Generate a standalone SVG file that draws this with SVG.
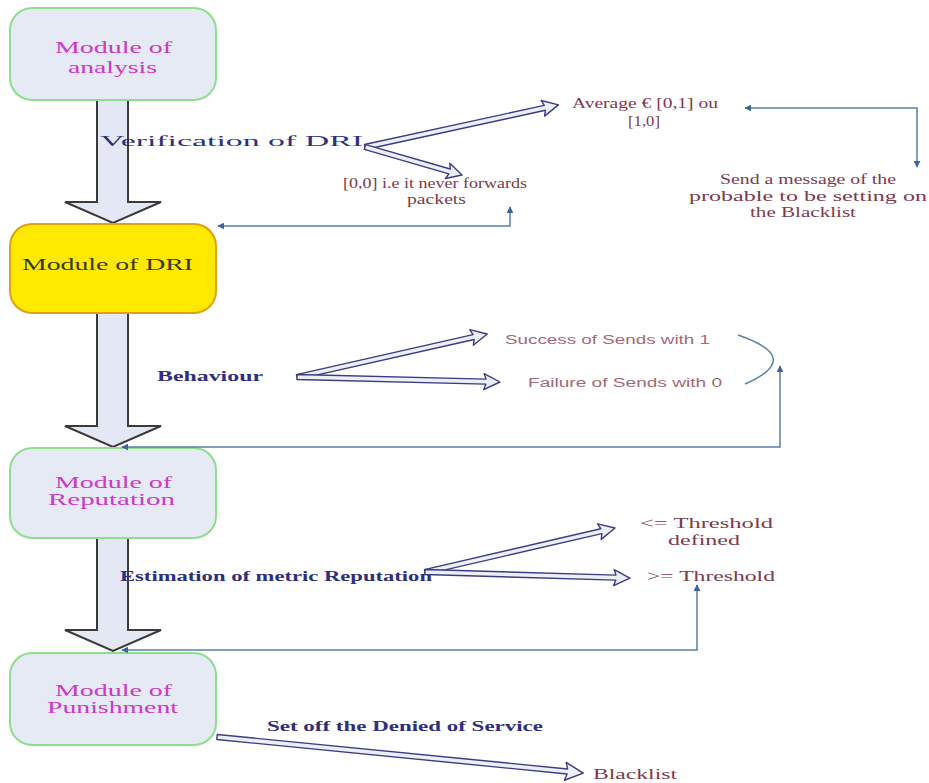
<svg xmlns="http://www.w3.org/2000/svg" width="929" height="783" viewBox="0 0 929 783">
<style>
  .box { fill: #e6eaf4; stroke: #8ede8e; stroke-width: 2; }
  .dri { fill: #ffe900; stroke: #e0a010; stroke-width: 2; }
  .mod { font-family: "Liberation Serif", "DejaVu Serif", serif; font-size: 16px; fill: #cc38c8; }
  .modd { font-family: "Liberation Serif", "DejaVu Serif", serif; font-size: 16px; fill: #3a3a24; }
  .lbl { font-family: "Liberation Serif", "DejaVu Serif", serif; font-size: 15px; fill: #2f2f7c; font-weight: bold; }
  .lbln { font-family: "Liberation Serif", "DejaVu Serif", serif; font-size: 15px; fill: #2f2f7c; }
  .res { font-family: "Liberation Serif", "DejaVu Serif", serif; font-size: 14px; fill: #7c3a4c; }
  .sans { font-family: "Liberation Sans", Arial, sans-serif; font-size: 12px; fill: #a56878; }
  .block { fill: #e4e8f4; stroke: #3a3a3a; stroke-width: 2; stroke-linejoin: miter; }
  .dbl { fill: #eceef8; stroke: #3c3c82; stroke-width: 1.4; stroke-linejoin: round; }
  .con { fill: none; stroke: #5a80a8; stroke-width: 1.5; }
</style>
<defs>
  <marker id="ah" viewBox="0 0 10 10" refX="9" refY="5" markerWidth="7" markerHeight="7" orient="auto-start-reverse" markerUnits="userSpaceOnUse">
    <path d="M0,0 L10,5 L0,10 z" fill="#3e62a0"/>
  </marker>
</defs>
<rect width="929" height="783" fill="#ffffff"/>

<!-- block arrows between modules -->
<g id="block-arrows">
  <polygon class="block" points="97,100 128,100 128,202 161,202 113,223 65,202 97,202"/>
  <polygon class="block" points="97,313 128,313 128,426 161,426 113,447 65,426 97,426"/>
  <polygon class="block" points="97,538 128,538 128,630 161,630 113,651 65,630 97,630"/>
</g>

<g id="node-analysis">
  <rect class="box" x="10" y="8" width="206" height="92" rx="22"/>
  <text class="mod" x="55" y="53" textLength="117" lengthAdjust="spacingAndGlyphs">Module of</text>
  <text class="mod" x="68" y="73" textLength="89" lengthAdjust="spacingAndGlyphs">analysis</text>
</g>
<g id="node-dri">
  <rect class="dri" x="10" y="224" width="206" height="89" rx="22"/>
  <text class="modd" x="22" y="270" textLength="171" lengthAdjust="spacingAndGlyphs">Module of DRI</text>
</g>
<g id="node-reputation">
  <rect class="box" x="10" y="448" width="206" height="90" rx="22"/>
  <text class="mod" x="55" y="488" textLength="117" lengthAdjust="spacingAndGlyphs">Module of</text>
  <text class="mod" x="48" y="505" textLength="127" lengthAdjust="spacingAndGlyphs">Reputation</text>
</g>
<g id="node-punishment">
  <rect class="box" x="10" y="653" width="206" height="92" rx="22"/>
  <text class="mod" x="55" y="696" textLength="117" lengthAdjust="spacingAndGlyphs">Module of</text>
  <text class="mod" x="47" y="713" textLength="131" lengthAdjust="spacingAndGlyphs">Punishment</text>
</g>

<!-- labels / result texts -->
<g id="node-verification">
  <text class="lbln" x="100" y="146" textLength="263" lengthAdjust="spacingAndGlyphs">Verification of DRI</text>
</g>
<g id="node-average">
  <text class="res" x="572" y="108" textLength="146" lengthAdjust="spacingAndGlyphs">Average € [0,1] ou</text>
  <text class="res" x="628" y="126" textLength="32" lengthAdjust="spacingAndGlyphs">[1,0]</text>
</g>
<g id="node-never">
  <text class="res" x="343" y="188" textLength="184" lengthAdjust="spacingAndGlyphs">[0,0] i.e it never forwards</text>
  <text class="res" x="407" y="204" textLength="59" lengthAdjust="spacingAndGlyphs">packets</text>
</g>
<g id="node-send-message">
  <text class="res" x="720" y="184" textLength="176" lengthAdjust="spacingAndGlyphs">Send a message of the</text>
  <text class="res" x="689" y="201" textLength="238" lengthAdjust="spacingAndGlyphs">probable to be setting on</text>
  <text class="res" x="750" y="217" textLength="106" lengthAdjust="spacingAndGlyphs">the Blacklist</text>
</g>
<g id="node-behaviour">
  <text class="lbl" x="157" y="381" textLength="106" lengthAdjust="spacingAndGlyphs">Behaviour</text>
</g>
<g id="node-success">
  <text class="sans" x="505" y="344" textLength="205" lengthAdjust="spacingAndGlyphs">Success of Sends with 1</text>
</g>
<g id="node-failure">
  <text class="sans" x="528" y="387" textLength="194" lengthAdjust="spacingAndGlyphs">Failure of Sends with 0</text>
</g>
<g id="node-estimation">
  <text class="lbl" x="120" y="581" textLength="312" lengthAdjust="spacingAndGlyphs">Estimation  of metric Reputation</text>
</g>
<g id="node-le-threshold">
  <text class="res" x="640" y="528" textLength="133" lengthAdjust="spacingAndGlyphs">&lt;= Threshold</text>
  <text class="res" x="668" y="545" textLength="72" lengthAdjust="spacingAndGlyphs">defined</text>
</g>
<g id="node-ge-threshold">
  <text class="res" x="647" y="581" textLength="128" lengthAdjust="spacingAndGlyphs">&gt;= Threshold</text>
</g>
<g id="node-denied">
  <text class="lbl" x="267" y="731" textLength="276" lengthAdjust="spacingAndGlyphs">Set off the Denied of Service</text>
</g>
<g id="node-blacklist">
  <text class="res" x="593" y="779" textLength="84" lengthAdjust="spacingAndGlyphs">Blacklist</text>
</g>

<g id="connectors">
  <!-- hollow double-line arrows -->
  <g transform="translate(365,147) rotate(-12.28)"><polygon class="dbl" points="0,-2.5 184,-2.5 182,-8 198,0 182,8 184,2.5 0,2.5"/></g>
  <g transform="translate(365,147) rotate(16.1)"><polygon class="dbl" points="0,-2.5 88,-2.5 86,-8 101,0 86,8 88,2.5 0,2.5"/></g>
  <g transform="translate(297,377) rotate(-12.75)"><polygon class="dbl" points="0,-2.5 181,-2.5 179,-8 195,0 179,8 181,2.5 0,2.5"/></g>
  <g transform="translate(297,377) rotate(1.41)"><polygon class="dbl" points="0,-2.5 189,-2.5 187,-8 203,0 187,8 189,2.5 0,2.5"/></g>
  <g transform="translate(425,572) rotate(-13.04)"><polygon class="dbl" points="0,-2.5 181,-2.5 179,-8 195,0 179,8 181,2.5 0,2.5"/></g>
  <g transform="translate(425,572) rotate(1.68)"><polygon class="dbl" points="0,-2.5 191,-2.5 189,-8 205,0 189,8 191,2.5 0,2.5"/></g>
  <g transform="translate(217,737) rotate(5.62)"><polygon class="dbl" points="0,-2.5 352,-2.5 350,-9 368,0 350,9 352,2.5 0,2.5"/></g>

  <!-- feedback connectors -->
  <path class="con" d="M 218 226 H 510 V 207" marker-start="url(#ah)" marker-end="url(#ah)"/>
  <path class="con" d="M 745 108 H 917 V 167" marker-start="url(#ah)" marker-end="url(#ah)"/>
  <path class="con" d="M 122 447 H 780 V 366" marker-start="url(#ah)" marker-end="url(#ah)"/>
  <path class="con" d="M 122 650 H 697 V 585" marker-start="url(#ah)" marker-end="url(#ah)"/>
  <path class="con" d="M 738 335 Q 805 358 745 384" stroke="#607890"/>
</g>
</svg>
